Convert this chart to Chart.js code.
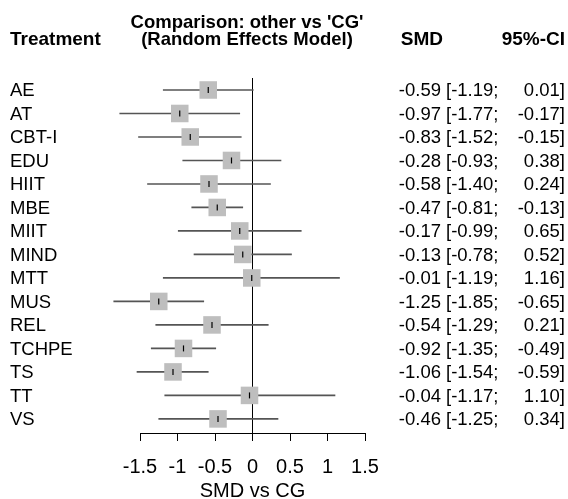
<!DOCTYPE html>
<html>
<head>
<meta charset="utf-8">
<script src="https://cdn.jsdelivr.net/npm/chart.js@4/dist/chart.umd.min.js"></script>
<style>
  body { margin: 0; background: #fff; }
  #wrap { width: 568px; height: 499px; }
</style>
</head>
<body>
<div id="wrap"><canvas id="forest" width="568" height="499"></canvas></div>
<script>
// --- DATA ---
const treatments = ['AE', 'AT', 'CBT-I', 'EDU', 'HIIT', 'MBE', 'MIIT', 'MIND', 'MTT', 'MUS', 'REL', 'TCHPE', 'TS', 'TT', 'VS'];
const smd   = [-0.59, -0.97, -0.83, -0.28, -0.58, -0.47, -0.17, -0.13, -0.01, -1.25, -0.54, -0.92, -1.06, -0.04, -0.46];
const ciLow = [-1.19, -1.77, -1.52, -0.93, -1.40, -0.81, -0.99, -0.78, -1.19, -1.85, -1.29, -1.35, -1.54, -1.17, -1.25];
const ciHigh = [0.01, -0.17, -0.15, 0.38, 0.24, -0.13, 0.65, 0.52, 1.16, -0.65, 0.21, -0.49, -0.59, 1.10, 0.34];
const tickValues = [-1.5, -1, -0.5, 0, 0.5, 1, 1.5];
const tickLabels = ['-1.5', '-1', '-0.5', '0', '0.5', '1', '1.5'];

const FONT = '"Liberation Sans", Arial, sans-serif';
const rows = treatments.map((t, i) => i + 1);
const yTop = 0.49, yBottom = 15.6;

const fmt = v => v.toFixed(2);

// text columns drawn next to the plot
const textColumns = {
    id: 'textColumns',
    afterDraw(chart) {
        const ctx = chart.ctx;
        const y = chart.scales.y;
        ctx.save();
        ctx.fillStyle = '#000';
        ctx.textBaseline = 'alphabetic';

        // headers
        ctx.font = 'bold 18.5px ' + FONT;
        ctx.textAlign = 'center';
        ctx.fillText("Comparison: other vs 'CG'", 247, 28);
        ctx.fillText('(Random Effects Model)', 247, 45);
        ctx.font = 'bold 19px ' + FONT;
        ctx.textAlign = 'left';
        ctx.fillText('Treatment', 10, 45);
        ctx.textAlign = 'right';
        ctx.fillText('SMD', 443, 45);
        ctx.fillText('95%-CI', 565, 45);

        // rows
        ctx.font = '18.5px ' + FONT;
        treatments.forEach((t, i) => {
            const py = y.getPixelForValue(rows[i]) + 6.5;
            ctx.textAlign = 'left';
            ctx.fillText(t, 10, py);
            ctx.textAlign = 'right';
            ctx.fillText(fmt(smd[i]), 441, py);
            ctx.textAlign = 'left';
            ctx.fillText('[' + fmt(ciLow[i]) + ';', 446, py);
            ctx.textAlign = 'right';
            ctx.fillText(fmt(ciHigh[i]) + ']', 565, py);
        });
        ctx.restore();
    }
};

const ctx = document.getElementById('forest').getContext('2d');
new Chart(ctx, {
    data: {
        datasets: [
            {
                // reference line at 0
                type: 'scatter',
                data: [{ x: 0, y: yTop }, { x: 0, y: yBottom }],
                showLine: true,
                borderColor: '#000',
                borderWidth: 1,
                pointRadius: 0,
                clip: false,
                order: 4
            },
            {
                // confidence intervals
                type: 'bar',
                indexAxis: 'y',
                data: rows.map((r, i) => ({ x: [ciLow[i], ciHigh[i]], y: r })),
                backgroundColor: '#555',
                borderWidth: 0,
                barThickness: 1,
                clip: false,
                order: 3
            },
            {
                // effect squares
                type: 'scatter',
                data: rows.map((r, i) => ({ x: smd[i], y: r })),
                pointStyle: 'rect',
                pointRadius: 12.4,
                backgroundColor: '#bebebe',
                borderWidth: 0,
                clip: false,
                order: 2
            },
            {
                // point estimate tick
                type: 'scatter',
                data: rows.map((r, i) => ({ x: smd[i], y: r })),
                pointStyle: 'line',
                rotation: 90,
                pointRadius: 3,
                borderColor: '#000',
                borderWidth: 1.2,
                clip: false,
                order: 1
            }
        ]
    },
    options: {
        responsive: false,
        devicePixelRatio: 1,
        animation: false,
        layout: { padding: { left: 140, right: 203, top: 78, bottom: -4 } },
        plugins: { legend: { display: false }, tooltip: { enabled: false } },
        scales: {
            x: {
                type: 'linear',
                min: -1.5,
                max: 1.5,
                offset: false,
                afterBuildTicks: axis => { axis.ticks = tickValues.map(v => ({ value: v })); },
                ticks: {
                    callback: v => tickLabels[tickValues.indexOf(v)],
                    color: '#000',
                    font: { family: FONT, size: 20 },
                    padding: 14,
                    maxRotation: 0,
                    autoSkip: false
                },
                grid: { drawOnChartArea: false, drawTicks: true, tickLength: 8, color: '#000', offset: false },
                border: { display: true, color: '#000', width: 1 },
                title: {
                    display: true,
                    text: 'SMD vs CG',
                    color: '#000',
                    font: { family: FONT, size: 20 },
                    padding: { top: -14, bottom: 0 }
                }
            },
            y: {
                type: 'linear',
                reverse: true,
                min: yTop,
                max: yBottom,
                offset: false,
                display: false
            }
        }
    },
    plugins: [textColumns]
});
</script>
</body>
</html>
